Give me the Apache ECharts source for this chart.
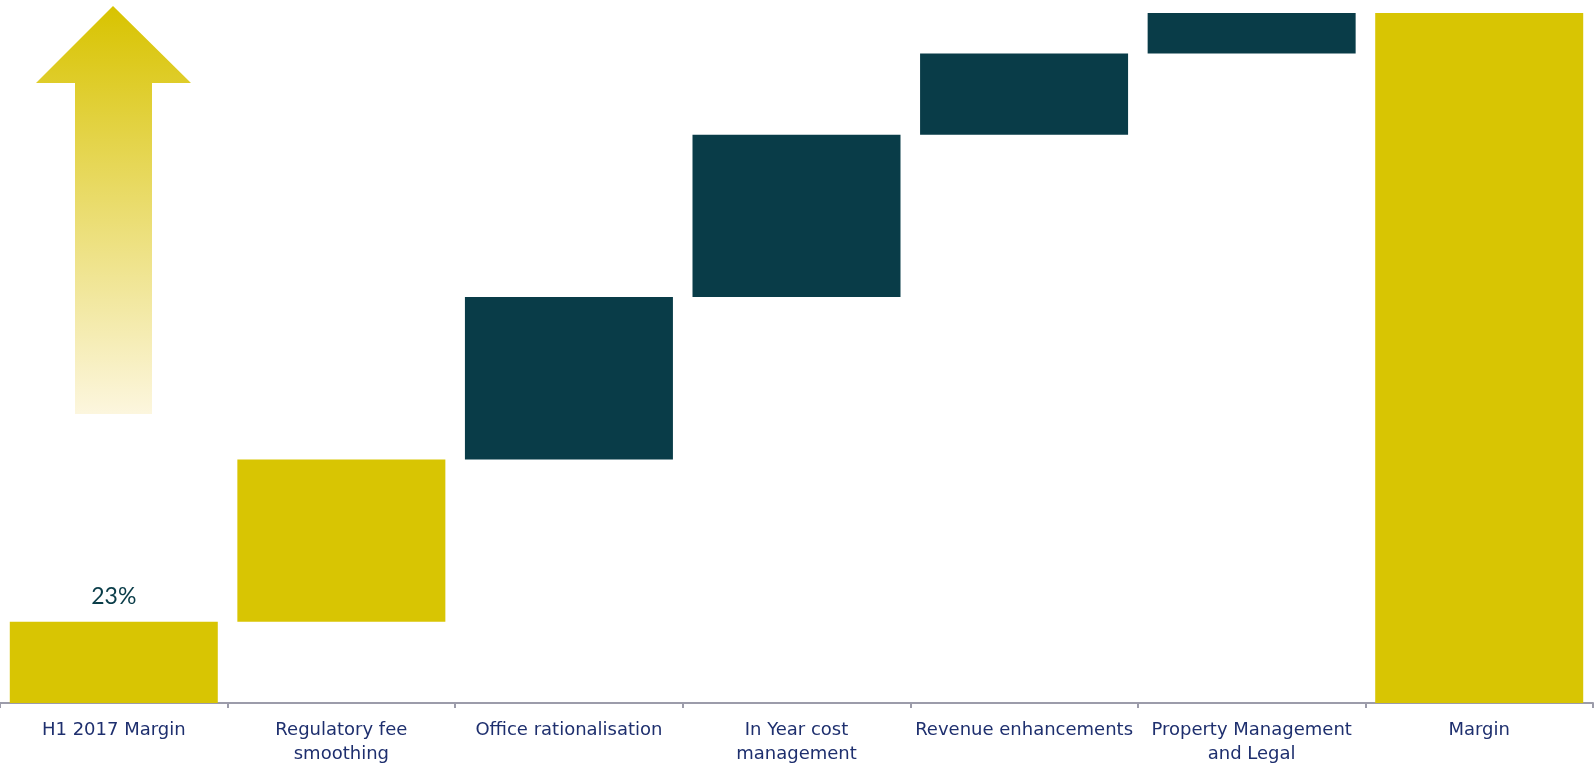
<!DOCTYPE html>
<html><head><meta charset="utf-8">
<script src="https://cdn.jsdelivr.net/npm/echarts@6/dist/echarts.min.js"></script>
<style>html,body{margin:0;padding:0;background:#fff}#c{width:1595px;height:770px}</style>
</head><body><div id="c"></div>
<script>
const categories = ["H1 2017 Margin", "Regulatory fee\nsmoothing", "Office rationalisation", "In Year cost\nmanagement", "Revenue enhancements", "Property Management\nand Legal", "Margin"];
const steps = [23, 46, 46, 46, 23, 11.5];
const startLabel = "23%";
const kinds = ["start", "gold", "teal", "teal", "teal", "teal", "total"];

const GOLD = "#D8C503", TEAL = "#093C48";
let base = [], vals = [], run = 0;
steps.forEach((v, i) => { base.push(i === 0 ? 0 : run); vals.push(v); run += v; });
base.push(0); vals.push(run);
const colors = kinds.map(k => k === "teal" ? TEAL : GOLD);

const chart = echarts.init(document.getElementById('c'));
chart.setOption({
  animation: false,
  grid: { left: 0, right: 2, top: 13, bottom: 67, containLabel: false },
  xAxis: {
    type: 'category', data: categories,
    axisLine: { lineStyle: { color: '#9C9CAA', width: 2 } },
    axisTick: { show: true, length: 5, lineStyle: { color: '#9C9CAA', width: 2 } },
    axisLabel: { color: '#1E2F6E', fontFamily: 'DejaVu Sans', fontSize: 18, lineHeight: 24, margin: 15, interval: 0 }
  },
  yAxis: { type: 'value', min: 0, max: run, show: false, splitLine: { show: false } },
  series: [
    { type: 'bar', stack: 'w', data: base, itemStyle: { color: 'transparent' }, barCategoryGap: '8.6%', silent: true },
    { type: 'bar', stack: 'w', data: vals.map((v, i) => ({ value: v, itemStyle: { color: colors[i] } })),
      barCategoryGap: '8.6%',
      label: { show: true, position: 'top', distance: 14, color: TEAL, fontFamily: 'Lato', fontSize: 23,
        formatter: p => p.dataIndex === 0 ? startLabel : '' } }
  ],
  graphic: [{
    type: 'polygon', silent: true,
    shape: { points: [[113, 6], [191, 83], [152, 83], [152, 414], [75, 414], [75, 83], [36, 83]] },
    style: { fill: new echarts.graphic.LinearGradient(0, 0, 0, 1, [
      { offset: 0, color: '#D8C300' }, { offset: 1, color: '#FCF6DE' }]) }
  }]
});
</script></body></html>
